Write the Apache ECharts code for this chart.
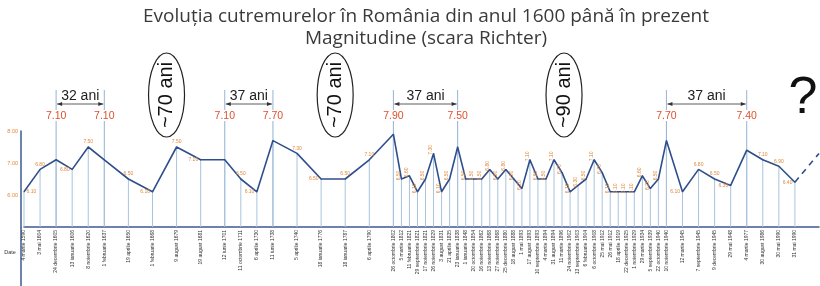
<!DOCTYPE html>
<html>
<head>
<meta charset="utf-8">
<script src="https://cdn.jsdelivr.net/npm/echarts@6/dist/echarts.min.js"></script>
<style>
  html, body { margin: 0; padding: 0; background: #fff; }
  #main { width: 820px; height: 286px; }
</style>
</head>
<body>
<div id="main"></div>
<script>
// categorii (sloturile goale '' reproduc spatierea axei din grafic)
const categories = [
  // 1590 - 1802
  '4 martie 1590', '', '3 mai 1604', '', '24 decembrie 1605', '', '13 ianuarie 1606', '', '8 noiembrie 1620', '',
  '1 februarie 1637', '', '', '19 aprilie 1650', '', '', '1 februarie 1668', '', '', '9 august 1679', '', '',
  '19 august 1681', '', '', '12 iunie 1701', '', '11 octombrie 1711', '', '6 aprilie 1730', '',
  '11 iunie 1738', '', '', '5 aprilie 1740', '', '', '18 ianuarie 1776', '', '', '18 ianuarie 1787', '', '',
  '6 aprilie 1790', '', '',
  // 1802 - 1940
  '26 octombrie 1802', '5 martie 1812', '11 februarie 1821', '29 septembrie 1821', '17 noiembrie 1821',
  '26 noiembrie 1829', '3 august 1831', '21 aprilie 1835', '23 ianuarie 1838', '1 ianuarie 1848',
  '20 octombrie 1854', '16 noiembrie 1862', '13 noiembrie 1868', '27 noiembrie 1868', '25 decembrie 1880',
  '18 august 1888', '1 mai 1893', '17 august 1893', '10 septembrie 1893', '4 martie 1894',
  '31 august 1894', '11 martie 1896', '24 noiembrie 1902', '13 septembrie 1903', '6 februarie 1904',
  '6 octombrie 1908', '25 mai 1912', '26 mai 1912', '18 aprilie 1919', '22 decembrie 1925',
  '1 noiembrie 1929', '29 martie 1934', '5 septembrie 1939', '22 octombrie 1940', '10 noiembrie 1940',
  // 1940 - 1990
  '', '12 martie 1945', '', '7 septembrie 1945', '', '9 decembrie 1945', '', '29 mai 1948',
  '', '4 martie 1977', '', '30 august 1986', '', '30 mai 1990', '', '31 mai 1990',
  '', '', ''
]

// magnitudine (scara Richter), aliniat cu categories
const magnitudes = [
  6.1, null, 6.8, null, 7.1, null, 6.8, null, 7.5, null,
  7.1, null, null, 6.5, null, null, 6.1, null, null, 7.5, null, null,
  7.1, null, null, 7.1, null, 6.5, null, 6.1, null,
  7.7, null, null, 7.3, null, null, 6.5, null, null, 6.5, null, null,
  7.1, null, null,
  7.9, 6.5, 6.6, 6.1, 6.5,
  7.3, 6.1, 6.5, 7.5, 6.5,
  6.5, 6.5, 6.8, 6.5, 6.8,
  6.5, 6.2, 7.1, 6.5, 6.5,
  7.1, 6.7, 6.1, 6.3, 6.5,
  7.1, 6.7, 6.1, 6.1, 6.1,
  6.1, 6.6, 6.2, 6.5, 7.7,
  null, 6.1, null, 6.8, null, 6.5, null, 6.3,
  null, 7.4, null, 7.1, null, 6.9, null, 6.4,
  null, null, null
]

// prelungirea punctata spre "?"
const trend = magnitudes.map((v, i) => i === 96 ? v : null)
trend[99] = 7.3

const yTicks = [5, 6, 7, 8]

// perechile de cutremure mari marcate sus
const pairs = [
  { from: '24 decembrie 1605', to: '1 februarie 1637', text: '32 ani' },
  { from: '12 iunie 1701', to: '11 iunie 1738', text: '37 ani' },
  { from: '26 octombrie 1802', to: '23 ianuarie 1838', text: '37 ani' },
  { from: '10 noiembrie 1940', to: '4 martie 1977', text: '37 ani' }
]
const gaps = ['~70 ani', '~70 ani', '~90 ani']

const marked = []
pairs.forEach(p => { marked.push(categories.indexOf(p.from)); marked.push(categories.indexOf(p.to)) })

// vecinul anterior / urmator care are valoare
function neighbour(i, step) {
  for (let j = i + step; j >= 0 && j < magnitudes.length; j += step) {
    if (magnitudes[j] != null) return magnitudes[j]
  }
  return null
}

const lineData = magnitudes.map((v, i) => {
  if (v == null) return null
  const dense = i > 46 && i < 81
  const prev = neighbour(i, -1), next = neighbour(i, 1)
  const low = (prev == null || v < prev) && (next == null || v <= next)
  let pos = 'top'
  if (!dense && low) pos = i === 0 ? 'right' : 'left'
  return {
    value: v,
    label: {
      show: marked.indexOf(i) < 0,
      rotate: dense ? 90 : 0,
      position: pos,
      distance: dense ? 3 : 2
    }
  }
})

var myChart = echarts.init(document.getElementById('main'))

var option = {
  animation: false,
  title: {
    text: 'Evoluția cutremurelor în România din anul 1600 până în prezent\nMagnitudine (scara Richter)',
    left: 421,
    textAlign: 'center',
    top: 1,
    textStyle: { fontSize: 19, fontWeight: 'normal', lineHeight: 22, color: '#3a3a3a', fontFamily: 'Open Sans' }
  },
  grid: { left: 24, right: 1, top: 131, bottom: 59 },
  xAxis: {
    type: 'category',
    data: categories,
    boundaryGap: false,
    axisLine: { lineStyle: { color: '#3d5a8f', width: 1.5 } },
    axisTick: { show: false },
    axisLabel: { interval: 0, rotate: 90, fontSize: 5, color: '#333', margin: 3, fontFamily: 'Liberation Sans' }
  },
  yAxis: {
    type: 'value',
    min: yTicks[0],
    max: yTicks[yTicks.length - 1],
    interval: 1,
    offset: 3,
    splitLine: { show: false },
    axisLine: { show: true, lineStyle: { color: '#3d5a8f', width: 1.5 } },
    axisTick: { show: false },
    axisLabel: {
      fontSize: 5.5, color: '#e08a3c', margin: 3, fontFamily: 'Liberation Sans',
      formatter: v => v === yTicks[0] ? '' : v.toFixed(2)
    }
  },
  series: [
    {
      type: 'bar',
      data: magnitudes,
      barWidth: 1,
      silent: true,
      itemStyle: { color: '#a9c4de' },
      z: 1
    },
    {
      type: 'line',
      data: lineData,
      connectNulls: true,
      symbol: 'circle',
      symbolSize: 1,
      itemStyle: { color: '#2f4f8c' },
      lineStyle: { color: '#2f4f8c', width: 1.6 },
      label: {
        show: true, fontSize: 5, color: '#e08a3c', fontFamily: 'Liberation Sans',
        formatter: p => p.value.toFixed(2)
      },
      z: 3
    },
    {
      type: 'line',
      data: trend,
      connectNulls: true,
      symbol: 'none',
      lineStyle: { color: '#2f4f8c', width: 1.6, type: [6, 5] },
      z: 3
    }
  ]
}

myChart.setOption(option)

// adnotarile de sus, pozitionate dupa axe
function px(i) {
  return myChart.convertToPixel({ gridIndex: 0 }, [i, yTicks[0]])[0]
}
const axisY = myChart.convertToPixel({ gridIndex: 0 }, [0, yTicks[0]])[1]
const g = []

marked.forEach(i => {
  const x = px(i)
  g.push({ type: 'line', shape: { x1: x, y1: axisY, x2: x, y2: 121 }, style: { stroke: '#8fb2d6', lineWidth: 1 }, z: 0 })
  g.push({ type: 'text', x: x, y: 116, style: { text: magnitudes[i].toFixed(2), fontSize: 10.5, fill: '#e0502d', align: 'center', verticalAlign: 'middle', fontFamily: 'Liberation Sans' } })
})

const bx = []
pairs.forEach(p => {
  const xa = px(categories.indexOf(p.from)) + 1
  const xb = px(categories.indexOf(p.to)) - 1
  bx.push([xa, xb])
  const y = 104
  g.push({ type: 'line', shape: { x1: xa, y1: y, x2: xb, y2: y }, style: { stroke: '#333', lineWidth: 0.8 } })
  g.push({ type: 'polygon', shape: { points: [[xa, y], [xa + 5, y - 2], [xa + 5, y + 2]] }, style: { fill: '#333' } })
  g.push({ type: 'polygon', shape: { points: [[xb, y], [xb - 5, y - 2], [xb - 5, y + 2]] }, style: { fill: '#333' } })
  g.push({ type: 'line', shape: { x1: xa - 1, y1: 90, x2: xa - 1, y2: 110 }, style: { stroke: '#7f9fc4', lineWidth: 0.8 } })
  g.push({ type: 'line', shape: { x1: xb + 1, y1: 90, x2: xb + 1, y2: 110 }, style: { stroke: '#7f9fc4', lineWidth: 0.8 } })
  g.push({ type: 'text', x: (xa + xb) / 2, y: 96, style: { text: p.text, fontSize: 14, fill: '#222', align: 'center', verticalAlign: 'middle', fontFamily: 'Liberation Sans' } })
})

gaps.forEach((t, k) => {
  const cx = (bx[k][1] + bx[k + 1][0]) / 2 + 2
  g.push({ type: 'ellipse', shape: { cx: cx, cy: 95, rx: 18, ry: 42 }, style: { fill: 'none', stroke: '#222', lineWidth: 1.2 } })
  g.push({ type: 'text', x: cx, y: 95, rotation: Math.PI / 2, style: { text: t, fontSize: 20, fill: '#111', align: 'center', verticalAlign: 'middle', fontFamily: 'Liberation Sans' } })
})

g.push({ type: 'text', x: 803, y: 99, style: { text: '?', fontSize: 52, fill: '#111', align: 'center', verticalAlign: 'middle', fontFamily: 'Liberation Sans' } })
g.push({ type: 'line', shape: { x1: 21, y1: axisY, x2: 21, y2: 286 }, style: { stroke: '#3d5a8f', lineWidth: 1.5 } })
g.push({ type: 'text', x: 10, y: 252, style: { text: 'Date', fontSize: 5.5, fill: '#333', align: 'center', verticalAlign: 'middle', fontFamily: 'Liberation Sans' } })

myChart.setOption({ graphic: g })
</script>
</body>
</html>
